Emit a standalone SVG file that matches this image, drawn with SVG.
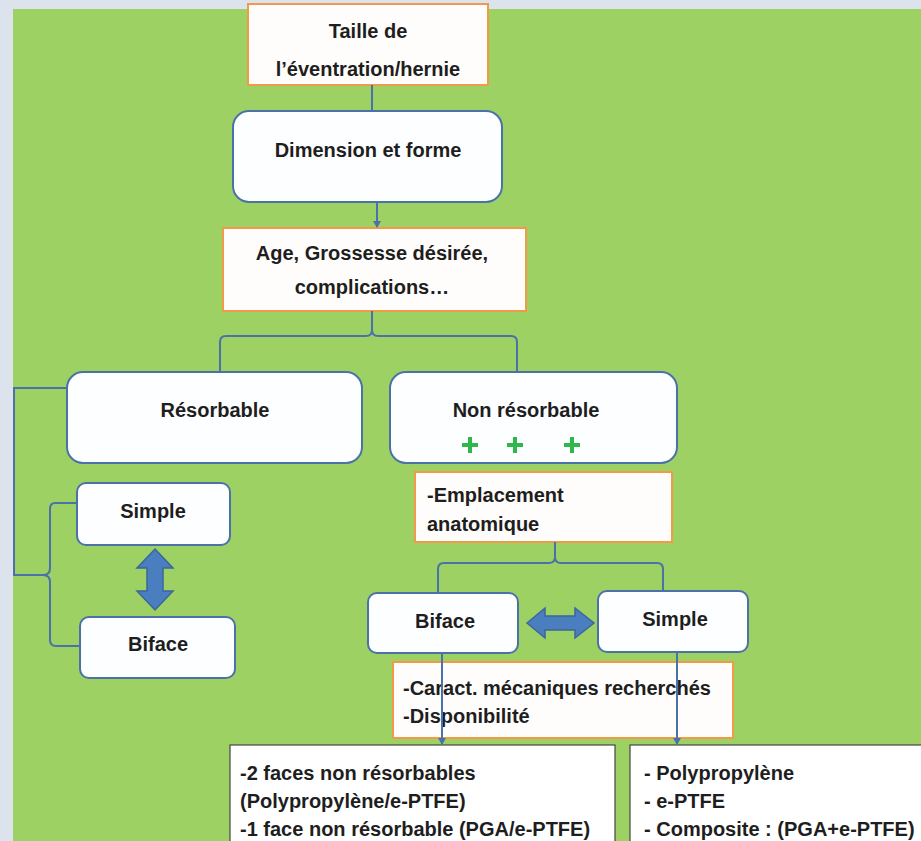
<svg xmlns="http://www.w3.org/2000/svg" width="921" height="841" viewBox="0 0 921 841">
<defs>
<style>
.t{font-family:"Liberation Sans",Arial,sans-serif;font-weight:bold;font-size:20px;fill:#1e1e1e}
.c{text-anchor:middle}
.rb{fill:#fdfeff;stroke:#4a72a8;stroke-width:2}
.ob{fill:#fffdfb;stroke:#f09a4a;stroke-width:2}
.kb{fill:#ffffff;stroke:#444;stroke-width:1.2}
.ln{fill:none;stroke:#4a72a8;stroke-width:2}
.da{fill:#4a7ebe;stroke:#3b669e;stroke-width:1.5}
.pl{fill:none;stroke:#2fb84a;stroke-width:4}
</style>
<marker id="ah" markerWidth="8" markerHeight="8" refX="6" refY="4" orient="auto" markerUnits="userSpaceOnUse">
<path d="M0,0 L7,4 L0,8 Z" fill="#4a72a8"/>
</marker>
</defs>
<rect x="0" y="0" width="921" height="841" fill="#dde3ec"/>
<rect x="13" y="9" width="908" height="832" fill="#9dd163"/>

<g id="taille">
<rect class="ob" x="248" y="4" width="240" height="81"/>
<text class="t c" x="368" y="38">Taille de</text>
<text class="t c" x="368" y="76">l’éventration/hernie</text>
</g>

<g id="dimension">
<rect class="rb" x="233" y="111" width="269" height="91" rx="16"/>
<text class="t c" x="368" y="157">Dimension et forme</text>
</g>

<g id="age">
<rect class="ob" x="223" y="228" width="303" height="83"/>
<text class="t c" x="372" y="260">Age, Grossesse désirée,</text>
<text class="t c" x="372" y="294">complications…</text>
</g>

<g id="resorbable">
<rect class="rb" x="67" y="372" width="295" height="91" rx="16"/>
<text class="t c" x="215" y="417">Résorbable</text>
</g>

<g id="nonresorbable">
<rect class="rb" x="390" y="372" width="287" height="91" rx="16"/>
<text class="t c" x="526" y="417">Non résorbable</text>
<path class="pl" d="M462,445 h16 M470,437 v16 M507,445 h16 M515,437 v16 M564,445 h16 M572,437 v16"/>
</g>

<g id="simple-left">
<rect class="rb" x="77" y="483" width="153" height="62" rx="9"/>
<text class="t c" x="153" y="518">Simple</text>
</g>

<g id="biface-left">
<rect class="rb" x="80" y="617" width="155" height="61" rx="9"/>
<text class="t c" x="158" y="651">Biface</text>
</g>

<g id="emplacement">
<rect class="ob" x="415" y="472" width="257" height="70"/>
<text class="t" x="427" y="502">-Emplacement</text>
<text class="t" x="427" y="531">anatomique</text>
</g>

<g id="biface-right">
<rect class="rb" x="368" y="593" width="150" height="60" rx="9"/>
<text class="t c" x="445" y="628">Biface</text>
</g>

<g id="simple-right">
<rect class="rb" x="598" y="591" width="150" height="61" rx="9"/>
<text class="t c" x="675" y="626">Simple</text>
</g>

<g id="caract">
<rect class="ob" x="393" y="662" width="340" height="76"/>
<text class="t" x="403" y="695">-Caract. mécaniques recherchés</text>
<text class="t" x="403" y="723">-Disponibilité</text>
</g>

<g id="bottom-left">
<rect class="kb" x="230" y="745" width="385" height="110"/>
<text class="t" x="240" y="780">-2 faces non résorbables</text>
<text class="t" x="240" y="808">(Polypropylène/e-PTFE)</text>
<text class="t" x="240" y="836">-1 face non résorbable (PGA/e-PTFE)</text>
</g>

<g id="bottom-right">
<rect class="kb" x="630" y="745" width="300" height="110"/>
<text class="t" x="644" y="780">- Polypropylène</text>
<text class="t" x="644" y="808">- e-PTFE</text>
<text class="t" x="644" y="836">- Composite : (PGA+e-PTFE)</text>
</g>

<g id="connectors">
<line class="ln" x1="372" y1="85" x2="372" y2="111"/>
<line class="ln" x1="377" y1="202" x2="377" y2="227" marker-end="url(#ah)"/>
<path class="ln" d="M372,311 L372,330 Q372,336 366,336 L226,336 Q220,336 220,342 L220,371"/>
<path class="ln" d="M372,330 Q372,336 378,336 L511,336 Q517,336 517,342 L517,371"/>
<path class="ln" d="M67,388 L14,388 L14,575 L43,575"/>
<path class="ln" d="M77,503 L55,503 Q50,503 50,509 L50,568 Q50,575 43,575 Q50,575 50,582 L50,640 Q50,646 56,646 L80,646"/>
<path class="ln" d="M555,542 L555,557 Q555,563 549,563 L444,563 Q438,563 438,569 L438,592"/>
<path class="ln" d="M555,557 Q555,563 561,563 L657,563 Q663,563 663,569 L663,590"/>
<line class="ln" x1="442" y1="653" x2="442" y2="744" marker-end="url(#ah)"/>
<line class="ln" x1="677" y1="652" x2="677" y2="744" marker-end="url(#ah)"/>
<path class="da" d="M155,549 L173,568 L163,568 L163,591 L173,591 L155,610 L137,591 L147,591 L147,568 L137,568 Z"/>
<path class="da" d="M527,623 L545,608 L545,616 L575,616 L575,608 L594,623 L575,638 L575,630 L545,630 L545,638 Z"/>
</g>
</svg>
